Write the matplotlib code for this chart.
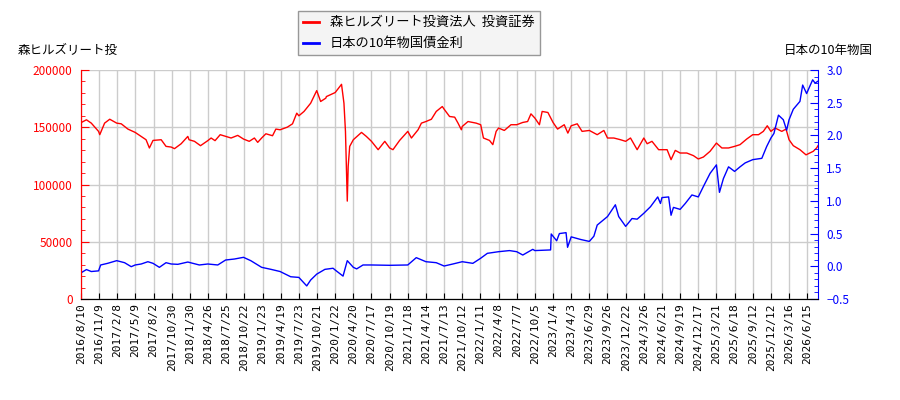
import matplotlib
matplotlib.use('Agg')
import matplotlib.pyplot as plt
from matplotlib.ticker import MultipleLocator, FixedLocator

plt.rcParams['font.family'] = ['Noto Sans CJK JP', 'DejaVu Sans']

# 目盛り(60営業日ごと)
tick_labels = ['2016/8/10', '2016/11/9', '2017/2/8', '2017/5/9', '2017/8/2', '2017/10/30',
               '2018/1/30', '2018/4/26', '2018/7/25', '2018/10/22', '2019/1/23', '2019/4/19',
               '2019/7/23', '2019/10/21', '2020/1/22', '2020/4/20', '2020/7/17', '2020/10/19',
               '2021/1/18', '2021/4/14', '2021/7/13', '2021/10/12', '2022/1/11', '2022/4/8',
               '2022/7/7', '2022/10/5', '2023/1/4', '2023/4/3', '2023/6/29', '2023/9/26',
               '2023/12/22', '2024/3/26', '2024/6/21', '2024/9/19', '2024/12/17', '2025/3/21',
               '2025/6/18', '2025/9/12', '2025/12/12', '2026/3/16', '2026/6/15']
tick_days = [60 * i for i in range(len(tick_labels))]
last_day = 2436

# 森ヒルズリート投資法人 (営業日, 株価)
reit_day = [0, 18, 34, 58, 62, 78, 95, 118, 133, 155, 179, 199, 215, 226, 238, 265, 281, 298,
            309, 331, 353, 357, 375, 395, 419, 430, 443, 460, 478, 496, 518, 537, 556, 573,
            584, 597, 611, 633, 644, 658, 682, 699, 713, 720, 737, 759, 779, 792, 809,
            811, 840, 855, 861, 869, 874, 880, 883, 888, 900, 927, 943, 960, 982, 1004, 1020,
            1031, 1053, 1080, 1092, 1114, 1125, 1140, 1158, 1174, 1194, 1200, 1218, 1235,
            1246, 1257, 1260, 1279, 1306, 1321, 1330, 1350, 1361, 1372, 1380, 1399, 1421,
            1440, 1460, 1476, 1487, 1500, 1515, 1524, 1543, 1560, 1575, 1597, 1609, 1620,
            1640, 1656, 1680, 1706, 1728, 1740, 1761, 1783, 1800, 1816, 1838, 1860, 1871,
            1887, 1909, 1920, 1937, 1950, 1964, 1980, 2002, 2024, 2040, 2057, 2079, 2100,
            2118, 2140, 2160, 2178, 2200, 2220, 2239, 2255, 2268, 2280, 2294, 2316, 2330,
            2340, 2354, 2376, 2396, 2420, 2431, 2436]
reit_price = [154000, 156500, 153600, 146400, 143500, 153600, 157000, 153600, 153000, 148400,
              145500, 142000, 139100, 131900, 138500, 139100, 133300, 132700, 131300, 135600,
              142000, 139100, 137700, 133900, 138300, 140600, 138300, 143500, 142000, 140600,
              142900, 139700, 137700, 140600, 136800, 140600, 144300, 142600, 148400, 147800,
              150100, 153000, 162300, 160000, 163800, 171000, 182000, 172500, 175400,
              176800, 180300, 185500, 187500, 171000, 146400, 85500, 115900, 133300, 139100,
              145500, 142000, 137700, 130400, 137700, 131900, 130400, 138500, 146400, 140600,
              147800, 153600, 155000, 157000, 163800, 168100, 165800, 159400, 158800, 153600,
              147800, 150700, 155000, 153600, 152200, 140600, 138500, 134800, 146400, 149300,
              147200, 152200, 152200, 154200, 155000, 161700, 158000, 152200, 163800, 162900,
              154200, 148400, 152200, 144900, 151300, 153000, 146400, 147200, 143500, 147200,
              140600, 140600, 139100, 137700, 140600, 130400, 140600, 135600, 137700, 130400,
              130400, 130400, 121700, 129800, 127500, 127500, 125200, 122300, 124000, 129000,
              136200, 131900, 131900, 133300, 134800, 139700, 143500, 143500, 146400, 151300,
              146400, 149300, 146400, 148400, 139100, 133900, 130400, 125900, 129000, 131900,
              134000]

# 日本の10年物国債金利 (営業日, %)
jgb_day = [0, 18, 34, 58, 65, 88, 118, 144, 166, 179, 199, 221, 238, 259, 281, 298, 320, 353,
           391, 419, 452, 478, 507, 537, 561, 597, 628, 658, 693, 720, 746, 759, 779, 806,
           833, 840, 866, 880, 900, 911, 932, 960, 1020, 1080, 1108, 1140, 1174, 1200, 1229,
           1260, 1295, 1320, 1343, 1380, 1416, 1440, 1460, 1493, 1500, 1552, 1554, 1572,
           1581, 1603, 1608, 1620, 1651, 1680, 1695, 1706, 1740, 1766, 1777, 1800, 1821,
           1838, 1860, 1882, 1906, 1915, 1920, 1942, 1950, 1958, 1980, 1997, 2019, 2040,
           2057, 2079, 2100, 2110, 2123, 2140, 2160, 2178, 2195, 2220, 2250, 2266, 2280,
           2290, 2305, 2321, 2332, 2340, 2354, 2376, 2385, 2398, 2418, 2426, 2436]
jgb_rate = [-0.10, -0.05, -0.08, -0.07, 0.02, 0.045, 0.086, 0.055, -0.006, 0.02, 0.035, 0.07,
            0.045, -0.016, 0.055, 0.035, 0.03, 0.065, 0.02, 0.035, 0.02, 0.096, 0.111, 0.137,
            0.086, -0.016, -0.047, -0.08, -0.16, -0.17, -0.30, -0.21, -0.12, -0.047,
            -0.03, -0.057, -0.15, 0.086, -0.016, -0.04, 0.02, 0.02, 0.015, 0.02, 0.132, 0.07,
            0.055, 0.004, 0.035, 0.07, 0.045, 0.12, 0.198, 0.223, 0.24, 0.223, 0.172, 0.259,
            0.24, 0.25, 0.494, 0.39, 0.5, 0.514, 0.29, 0.45, 0.41, 0.38, 0.46, 0.63, 0.76,
            0.94, 0.76, 0.61, 0.73, 0.72, 0.81, 0.91, 1.06, 0.96, 1.05, 1.06, 0.78, 0.90,
            0.87, 0.96, 1.09, 1.06, 1.22, 1.42, 1.55, 1.13, 1.34, 1.52, 1.45, 1.52, 1.58,
            1.63, 1.65, 1.83, 1.96, 2.03, 2.31, 2.24, 2.08, 2.24, 2.40, 2.52, 2.77, 2.64,
            2.85, 2.80, 2.83]

fig = plt.figure(figsize=(9, 4), dpi=100)
ax1 = fig.add_axes([0.09, 0.2525, 0.819, 0.5725])
ax2 = ax1.twinx()

l1, = ax1.plot(reit_day, reit_price, color='red', linewidth=1, zorder=3)
l2, = ax2.plot(jgb_day, jgb_rate, color='blue', linewidth=1, zorder=2)

# 軸の範囲
ax1.set_xlim(0, last_day)
ax1.set_ylim(0, 200000)
ax2.set_ylim(-0.5, 3.0)

# 目盛り
ax1.xaxis.set_major_locator(FixedLocator(tick_days))
ax1.set_xticklabels(tick_labels, rotation=90, family='DejaVu Sans Mono', fontsize=8)
ax1.yaxis.set_major_locator(MultipleLocator(50000))
ax1.yaxis.set_minor_locator(MultipleLocator(10000))
ax2.yaxis.set_major_locator(MultipleLocator(0.5))
ax2.yaxis.set_minor_locator(MultipleLocator(0.1))
ax1.set_yticks([0, 50000, 100000, 150000, 200000])
ax1.set_yticklabels(['0', '50000', '100000', '150000', '200000'])

ax1.tick_params(axis='x', direction='in', length=4, pad=3)
ax1.tick_params(axis='y', which='major', direction='in', length=6, colors='red', labelsize=8.5, pad=6)
ax1.tick_params(axis='y', which='minor', direction='in', length=3, color='red')
ax2.tick_params(axis='y', which='major', direction='in', length=6, colors='blue', labelsize=8.5, pad=6)
ax2.tick_params(axis='y', which='minor', direction='in', length=3, color='blue')

# グリッド
ax1.grid(True, which='major', color='#cccccc', linewidth=1)
ax1.set_axisbelow(True)

# 枠線
for a in (ax1, ax2):
    a.spines['top'].set_visible(False)
ax2.spines['left'].set_color('red')
ax2.spines['right'].set_color('blue')
ax1.spines['left'].set_color('red')
ax1.spines['right'].set_visible(False)
ax2.spines['bottom'].set_color('black')

# 軸ラベル
fig.text(0.02, 0.875, '森ヒルズリート投', fontsize=9, ha='left', va='center')
fig.text(0.97, 0.875, '日本の10年物国', fontsize=9, ha='right', va='center')

# 凡例
leg = fig.legend([l1, l2], ['森ヒルズリート投資法人  投資証券', '日本の10年物国債金利'],
                 loc='upper left', bbox_to_anchor=(0.331, 0.9725), fontsize=9.5,
                 frameon=True, fancybox=False, facecolor='#f2f2f2', edgecolor='#808080',
                 handlelength=1.2, handletextpad=0.8, borderpad=0.4, labelspacing=0.6,
                 borderaxespad=0)
leg.get_frame().set_linewidth(1)
for line in leg.get_lines():
    line.set_linewidth(2)

fig.savefig('out.png', dpi=100)
